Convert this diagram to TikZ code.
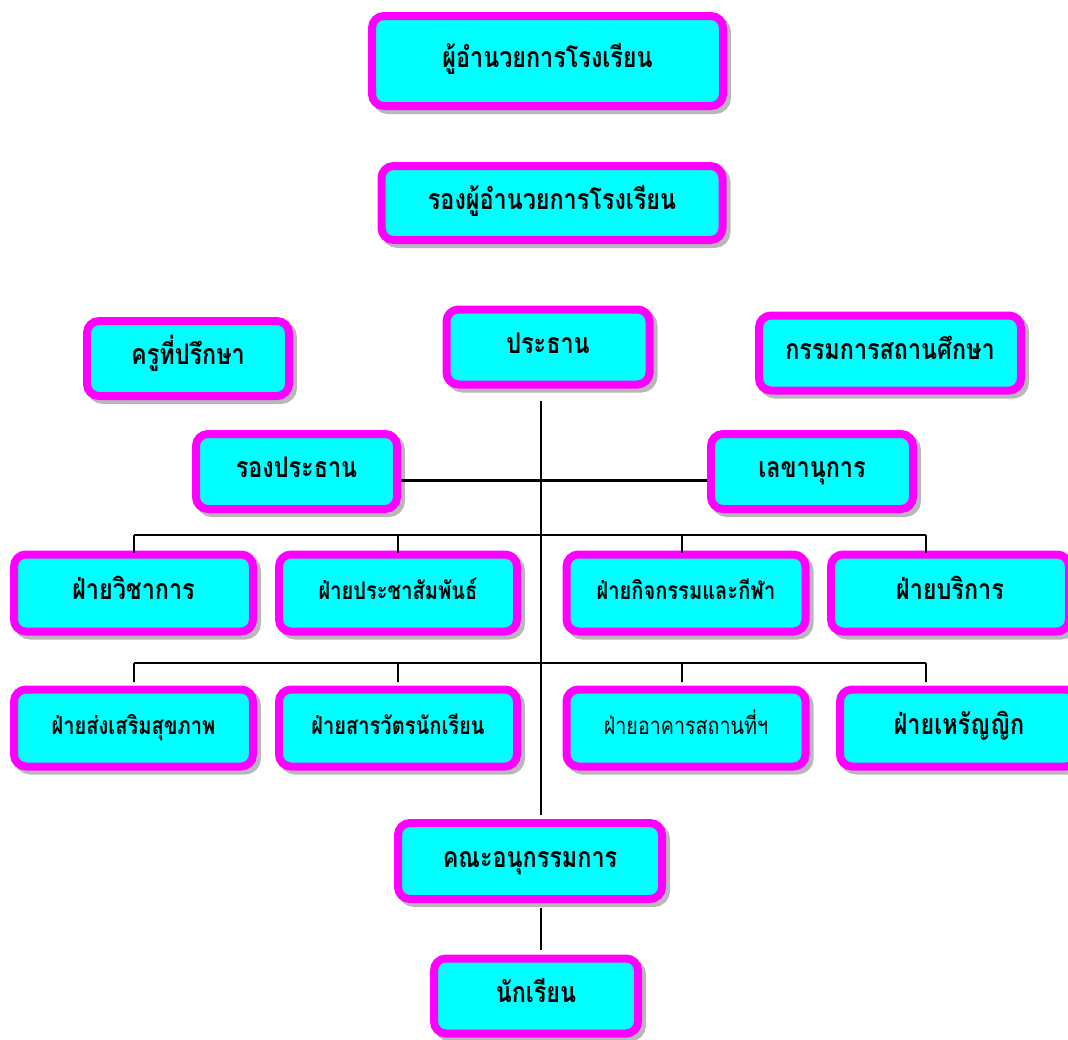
\documentclass[tikz,border=0pt]{standalone}
\usepackage{fontspec}
\newfontfamily\thaifont[Script=Thai,FakeStretch=0.82]{Loma}
\usetikzlibrary{shadows}
\definecolor{boxfill}{HTML}{00FFFF}
\definecolor{boxline}{HTML}{FF00FF}
\definecolor{shadowc}{HTML}{B8B8B8}
\tikzset{
  orgbox/.style={rectangle, draw=boxline, fill=boxfill, line width=8pt,
    rounded corners=12pt, inner sep=0pt, align=center,
    text height=1.38em, text depth=0.1em,
    font=\thaifont\bfseries\fontsize{28.5}{32}\selectfont,
    drop shadow={shadow xshift=4pt, shadow yshift=-4pt, fill=shadowc,
      draw=shadowc, line width=8pt, opacity=1}},
  smalltext/.style={font=\thaifont\bfseries\fontsize{24.5}{28}\selectfont},
  lighttext/.style={font=\thaifont\fontsize{24}{28}\selectfont},
  conn/.style={line width=2.5pt, black}
}
\begin{document}
\begin{tikzpicture}[x=1pt,y=-1pt]
\useasboundingbox (0,0) rectangle (1068,1039);
% top boxes
\node[orgbox, minimum width=351pt, minimum height=90pt] (dir) at (547.5,61) {ผู้อำนวยการโรงเรียน};
\node[orgbox, minimum width=341pt, minimum height=74pt] (vdir) at (552,203) {รองผู้อำนวยการโรงเรียน};
\node[orgbox, minimum width=202pt, minimum height=75pt] (adv) at (188,358.5) {ครูที่ปรึกษา};
\node[orgbox, minimum width=203pt, minimum height=75pt] (chair) at (548,347) {ประธาน};
\node[orgbox, minimum width=262pt, minimum height=75pt] (board) at (890,353) {กรรมการสถานศึกษา};
\node[orgbox, minimum width=201pt, minimum height=75pt] (vice) at (296.5,471.5) {รองประธาน};
\node[orgbox, minimum width=202pt, minimum height=75pt] (sec) at (812,471.5) {เลขานุการ};
% row 1
\node[orgbox, minimum width=239pt, minimum height=77pt] (d1) at (133.5,593) {ฝ่ายวิชาการ};
\node[orgbox, smalltext, minimum width=238pt, minimum height=77pt] (d2) at (398,593) {ฝ่ายประชาสัมพันธ์};
\node[orgbox, smalltext, minimum width=239pt, minimum height=77pt] (d3) at (686,593) {ฝ่ายกิจกรรมและกีฬา};
\node[orgbox, minimum width=238pt, minimum height=77pt] (d4) at (950,593) {ฝ่ายบริการ};
% row 2
\node[orgbox, smalltext, minimum width=239pt, minimum height=77pt] (e1) at (133.5,728) {ฝ่ายส่งเสริมสุขภาพ};
\node[orgbox, smalltext, minimum width=238pt, minimum height=77pt] (e2) at (398,728) {ฝ่ายสารวัตรนักเรียน};
\node[orgbox, lighttext, minimum width=239pt, minimum height=77pt] (e3) at (686,728) {ฝ่ายอาคารสถานที่ฯ};
\node[orgbox, minimum width=238pt, minimum height=77pt] (e4) at (959,728) {ฝ่ายเหรัญญิก};
% bottom
\node[orgbox, minimum width=264pt, minimum height=76pt] (sub) at (530,861) {คณะอนุกรรมการ};
\node[orgbox, minimum width=204pt, minimum height=75pt] (stu) at (536,996) {นักเรียน};
% connector points
\coordinate (trunkTop) at (541,401);
\coordinate (trunkBot) at (541,815);
\coordinate (busA) at (134,535);
\coordinate (busB) at (926,535);
\coordinate (busC) at (134,663);
\coordinate (busD) at (926,663);
\coordinate (a2) at (398,535);
\coordinate (a3) at (682,535);
\coordinate (c2) at (398,663);
\coordinate (c3) at (682,663);
\coordinate (lowTop) at (541,908);
\coordinate (lowBot) at (541,950);
% connectors
\draw[conn] (trunkTop) -- (trunkBot);
\draw[conn] ([yshift=-9pt]vice.east) -- ([yshift=-9pt]sec.west);
\draw[conn] (busA) -- (busB);
\draw[conn] (busC) -- (busD);
\draw[conn] (busA) -- (busA |- 0,553);
\draw[conn] (a2) -- (a2 |- 0,553);
\draw[conn] (a3) -- (a3 |- 0,553);
\draw[conn] (busB) -- (busB |- 0,553);
\draw[conn] (busC) -- (busC |- 0,682);
\draw[conn] (c2) -- (c2 |- 0,682);
\draw[conn] (c3) -- (c3 |- 0,682);
\draw[conn] (busD) -- (busD |- 0,682);
\draw[conn] (lowTop) -- (lowBot);
\end{tikzpicture}
\end{document}
